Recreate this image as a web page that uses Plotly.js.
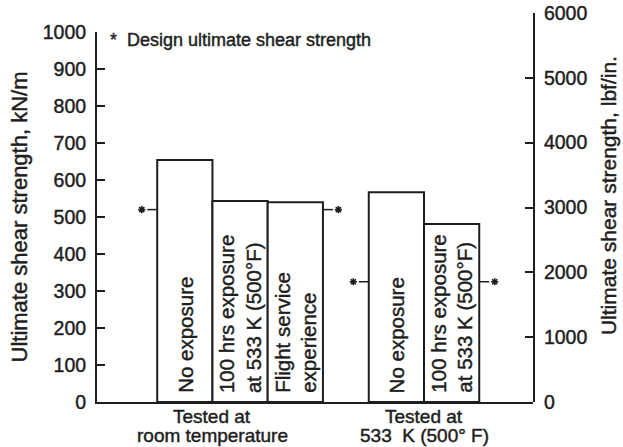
<!DOCTYPE html>
<html>
<head>
<meta charset="utf-8">
<script src="https://cdn.plot.ly/plotly-3.0.1.min.js"></script>
<style>
html,body{margin:0;padding:0;background:#fff;}
#chart{width:623px;height:447px;}
#chart svg text{stroke:#1e1e1e;stroke-width:0.45px;}
</style>
</head>
<body>
<div id="chart"></div>
<script>
// ---- data ----
const groupLabels = [['Tested at', 'room temperature'], ['Tested at', '533  K (500° F)']];
const barLabels = [
  ['No exposure', '100 hrs exposure<br>at 533 K (500°F)', 'Flight service<br>experience'],
  ['No exposure', '100 hrs exposure<br>at 533 K (500°F)']
];
const strengthKNm = [
  [654, 543, 540],
  [567, 481]
];
const designKNm = [520, 325];
const designLabel = '*  Design ultimate shear strength';
const leftTitle = 'Ultimate shear strength, kN/m';
const rightTitle = 'Ultimate shear strength, lbf/in.';
const KNM_PER_LBFIN = 0.175127;
const leftMax = 1000;
const rightMax = 6000;

// ---- layout helpers ----
const INK = '#1e1e1e';
const FONT = 'Liberation Sans, Arial, Helvetica, sans-serif';
const GROUP_GAP = 0.83;   // gap between groups, in bar widths
const STUB = 0.18;        // design-marker stub length, in bar widths

const xs = [], ys = [], groupStart = [], groupEnd = [];
let cursor = 0;
strengthKNm.forEach((vals, g) => {
  groupStart.push(cursor);
  vals.forEach((v, i) => { xs.push(cursor + i + 0.5); ys.push(v); });
  cursor += vals.length;
  groupEnd.push(cursor);
  cursor += GROUP_GAP;
});
const flatLabels = barLabels.flat();

const bars = {
  type: 'bar', x: xs, y: ys, width: 1,
  marker: {color: '#ffffff', line: {color: INK, width: 2}},
  hoverinfo: 'y', showlegend: false
};
// same bars expressed in lbf/in. on the right-hand axis (invisible, only carries that axis)
const barsImperial = {
  type: 'scatter', mode: 'markers', x: xs, y: ys.map(v => v / KNM_PER_LBFIN),
  xaxis: 'x', yaxis: 'y2', marker: {opacity: 0, size: 1},
  hoverinfo: 'skip', showlegend: false
};

const stubX = [], stubY = [], starX = [], starY = [];
designKNm.forEach((d, g) => {
  stubX.push(groupStart[g] - STUB, groupStart[g], null, groupEnd[g], groupEnd[g] + STUB, null);
  stubY.push(d, d, null, d, d, null);
  starX.push(groupStart[g] - STUB - 0.1, groupEnd[g] + STUB + 0.1);
  starY.push(d, d);
});
const stubs = {
  type: 'scatter', mode: 'lines', x: stubX, y: stubY,
  line: {color: INK, width: 1.5}, showlegend: false, hoverinfo: 'skip'
};
const stars = {
  type: 'scatter', mode: 'markers', x: starX, y: starY,
  marker: {symbol: 'asterisk-open', size: 6, color: INK, line: {color: INK, width: 1.6}},
  showlegend: false, hoverinfo: 'skip'
};

const annotations = flatLabels.map((t, i) => ({
  x: xs[i], y: 0, xref: 'x', yref: 'y', text: t, textangle: -90,
  showarrow: false, xanchor: 'center', yanchor: 'bottom', yshift: 7, align: 'left',
  font: {family: FONT, size: 20.5, color: INK}
}));
groupLabels.forEach((lines, g) => {
  lines.forEach((line, k) => {
    annotations.push({
      x: groupStart[g] + 1, y: 0, xref: 'x', yref: 'y', text: line,
      showarrow: false, xanchor: 'center', yanchor: 'middle', yshift: -14 - 19 * k,
      font: {family: FONT, size: 19, color: INK}
    });
  });
});
annotations.push({
  xref: 'paper', yref: 'paper', x: 0.025, y: 0.931, xanchor: 'left', yanchor: 'middle',
  text: designLabel, showarrow: false, font: {family: FONT, size: 18, color: INK}
});
annotations.push({
  xref: 'paper', yref: 'paper', x: 1.172, y: 0.532, xanchor: 'center', yanchor: 'middle',
  text: rightTitle, textangle: -90, showarrow: false, font: {family: FONT, size: 21, color: INK}
});

const plotL = 97, plotR = 533, plotT = 13, plotB = 402;
const leftTopPx = 32;
const layout = {
  width: 623, height: 447,
  margin: {l: plotL, r: 623 - plotR, t: plotT, b: 447 - plotB, pad: 0},
  paper_bgcolor: '#fff', plot_bgcolor: 'rgba(0,0,0,0)',
  font: {family: FONT, size: 19.5, color: INK},
  showlegend: false,
  xaxis: {
    range: [-1.09, cursor - GROUP_GAP + 0.973], showgrid: false, zeroline: false,
    showline: true, linecolor: INK, linewidth: 2, ticks: '', showticklabels: false,
    fixedrange: true
  },
  yaxis: {
    domain: [0, (plotB - leftTopPx) / (plotB - plotT)],
    range: [0, leftMax], dtick: 100, showgrid: false, zeroline: false,
    showline: true, linecolor: INK, linewidth: 2,
    ticks: 'inside', ticklen: 8, tickwidth: 2, tickcolor: INK,
    ticklabelstandoff: 5,
    tickfont: {family: FONT, size: 19.5, color: INK},
    title: {text: leftTitle, font: {family: FONT, size: 22, color: INK}, standoff: 9}
  },
  yaxis2: {
    domain: [0, 1], anchor: 'x', side: 'right',
    range: [0, rightMax], dtick: 1000, showgrid: false, zeroline: false,
    showline: true, linecolor: INK, linewidth: 2,
    ticks: 'inside', ticklen: 8, tickwidth: 2, tickcolor: INK,
    ticklabelstandoff: 5,
    tickfont: {family: FONT, size: 19.5, color: INK}
  },
  bargap: 0,
  annotations: annotations
};

Plotly.newPlot('chart', [bars, barsImperial, stubs, stars], layout, {staticPlot: true, displayModeBar: false});
</script>
</body>
</html>
